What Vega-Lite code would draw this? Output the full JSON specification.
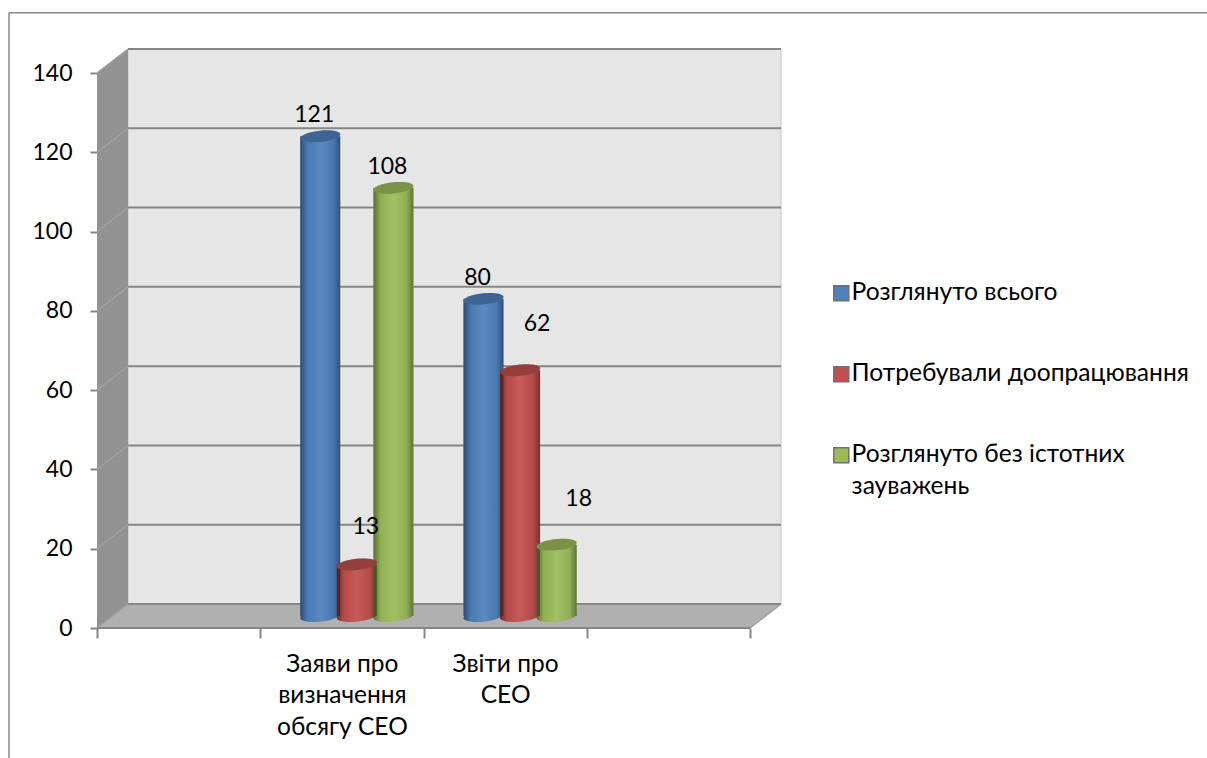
{
"$schema":"https://vega.github.io/schema/vega-lite/v6.json",
"width":653,"height":555,
"autosize":{"type":"none"},
"padding":{"left":97,"top":73,"right":457,"bottom":130},
"background":"#ffffff",
"config":{"font":"Lato","view":{"stroke":null},"axis":{"labelFont":"Lato","labelFontSize":23,"labelColor":"#000000","titleFont":"Lato"},"legend":{"labelFont":"Lato","labelFontSize":24.6,"labelColor":"#000000"}},
"datasets":{"bars":[
{"category":"Заяви про визначення обсягу СЕО","series":"Розглянуто всього","value":121},
{"category":"Заяви про визначення обсягу СЕО","series":"Потребували доопрацювання","value":13},
{"category":"Заяви про визначення обсягу СЕО","series":"Розглянуто без істотних зауважень","value":108},
{"category":"Звіти про СЕО","series":"Розглянуто всього","value":80},
{"category":"Звіти про СЕО","series":"Потребували доопрацювання","value":62},
{"category":"Звіти про СЕО","series":"Розглянуто без істотних зауважень","value":18}
]},
"resolve":{"scale":{"x":"independent"}},
"layer":[
{"encoding":{},
"layer":[
{"data":{"values":[{"x":-0.539,"x2":6.8,"y":155.2,"y2":155.2},{"x":-0.539,"x2":-0.539,"y":155.2,"y2":-32.9}]},
 "mark":{"type":"rule","color":"#8c8c8c","strokeWidth":1.5},
 "encoding":{"x":{"field":"x","type":"quantitative","scale":{"domain":[0,4]},"axis":null},"x2":{"field":"x2"},"y":{"field":"y","type":"quantitative","scale":{"domain":[0,140]},"axis":{"values":[0,20,40,60,80,100,120,140],"title":null,"grid":false,"labelPadding":18,"tickSize":7,"tickColor":"#868686","tickWidth":2,"domain":false}},"y2":{"field":"y2"}}},
{"data":{"values":[{"x":0.19,"x2":4.19,"y":6.05,"y2":146.05}]},
 "mark":{"type":"rect","fill":"#e6e6e6","stroke":"#c8c8c8","strokeWidth":1},
 "encoding":{"x":{"field":"x","type":"quantitative","scale":{"domain":[0,4]},"axis":null},"x2":{"field":"x2"},"y":{"field":"y","type":"quantitative","scale":{"domain":[0,140]}},"y2":{"field":"y2"}}},
{"data":{"values":[{"x":0,"y":0,"y2":140},{"x":0.19,"y":6.05,"y2":146.05}]},
 "mark":{"type":"area","fill":"#929292","orient":"vertical"},
 "encoding":{"x":{"field":"x","type":"quantitative","scale":{"domain":[0,4]},"axis":null},"y":{"field":"y","type":"quantitative","scale":{"domain":[0,140]}},"y2":{"field":"y2"}}},
{"data":{"values":[{"y":0,"x":0,"x2":4},{"y":6.05,"x":0.19,"x2":4.19}]},
 "mark":{"type":"area","fill":"#b0b0b0","orient":"horizontal"},
 "encoding":{"y":{"field":"y","type":"quantitative","scale":{"domain":[0,140]}},"x":{"field":"x","type":"quantitative","scale":{"domain":[0,4]},"axis":null},"x2":{"field":"x2"}}},
{"data":{"values":[
{"x":0,"y":0,"x2":0.19,"y2":6.05},{"x":0,"y":20,"x2":0.19,"y2":26.05},{"x":0,"y":40,"x2":0.19,"y2":46.05},{"x":0,"y":60,"x2":0.19,"y2":66.05},{"x":0,"y":80,"x2":0.19,"y2":86.05},{"x":0,"y":100,"x2":0.19,"y2":106.05},{"x":0,"y":120,"x2":0.19,"y2":126.05},{"x":0,"y":140,"x2":0.19,"y2":146.05},
{"x":4,"y":0,"x2":4.19,"y2":6.05}
]},
 "mark":{"type":"rule","color":"#a0a0a0","strokeWidth":1.5},
 "encoding":{"x":{"field":"x","type":"quantitative","scale":{"domain":[0,4]},"axis":null},"x2":{"field":"x2"},"y":{"field":"y","type":"quantitative","scale":{"domain":[0,140]}},"y2":{"field":"y2"}}},
{"data":{"values":[
{"x":0.19,"x2":4.19,"y":6.05},{"x":0.19,"x2":4.19,"y":26.05},{"x":0.19,"x2":4.19,"y":46.05},{"x":0.19,"x2":4.19,"y":66.05},{"x":0.19,"x2":4.19,"y":86.05},{"x":0.19,"x2":4.19,"y":106.05},{"x":0.19,"x2":4.19,"y":126.05},{"x":0.19,"x2":4.19,"y":146.05},{"x":0,"x2":4,"y":0}
]},
 "mark":{"type":"rule","color":"#868686","strokeWidth":2},
 "encoding":{"x":{"field":"x","type":"quantitative","scale":{"domain":[0,4]},"axis":null},"x2":{"field":"x2"},"y":{"field":"y","type":"quantitative","scale":{"domain":[0,140]}}}}
]},
{"data":{"name":"bars"},
"encoding":{
 "x":{"field":"category","type":"nominal","sort":null,"scale":{"domain":[" ","Заяви про визначення обсягу СЕО","Звіти про СЕО","  "],"paddingInner":0,"paddingOuter":0},
  "axis":{"title":null,"bandPosition":0,"tickBand":"extent","labelAngle":0,"labelAlign":"center","labelBaseline":"top","labelFontSize":24.5,"labelPadding":14,"labelLimit":400,"labelLineHeight":31.5,"tickSize":10,"tickColor":"#868686","tickWidth":2,"domain":false,"grid":false,
  "labelExpr":"datum.value === 'Заяви про визначення обсягу СЕО' ? ['Заяви про','визначення','обсягу СЕО'] : datum.value === 'Звіти про СЕО' ? ['Звіти про','СЕО'] : ''"}},
 "xOffset":{"field":"series","type":"nominal","sort":null,"scale":{"domain":["Розглянуто всього","Потребували доопрацювання","Розглянуто без істотних зауважень"],"paddingInner":0,"paddingOuter":0.73,"align":0.78}},
 "y":{"field":"value","type":"quantitative","scale":{"domain":[0,140]}}
},
"layer":[
{"transform":[{"calculate":"0","as":"base"}],"mark":{"type":"point","filled":true,"opacity":1,"size":1600,"yOffset":-12,"shape":"M-1,0.1 A1,0.28,-6,1,1,1,-0.1 A1,0.28,-6,1,1,-1,0.1 Z","strokeWidth":0},
 "encoding":{"y":{"field":"base","type":"quantitative"},
 "color":{"field":"series","type":"nominal","sort":null,"scale":{"domain":["Розглянуто всього","Потребували доопрацювання","Розглянуто без істотних зауважень"],"range":["#4f81bd","#c0504d","#9bbb59"]},
 "legend":{"title":null,"orient":"none","legendX":732,"legendY":208,"symbolType":"square","symbolSize":225,"symbolStrokeColor":"#6f6f6f","symbolStrokeWidth":1.5,"symbolOpacity":1,"labelOffset":-2,"rowPadding":56,"labelLimit":400,
 "encoding":{"labels":{"lineHeight":{"value":32}}},
 "labelExpr":"datum.value === 'Розглянуто без істотних зауважень' ? ['Розглянуто без істотних','зауважень'] : datum.value"}}}},
{"transform":[{"calculate":"0","as":"base"}],"mark":{"type":"point","filled":true,"opacity":1,"size":1600,"yOffset":-12,"shape":"M-1,0.1 A1,0.28,-6,1,1,1,-0.1 A1,0.28,-6,1,1,-1,0.1 Z","strokeWidth":0,"fill":{"gradient":"linear","x1":0,"x2":1,"y1":0,"y2":0,"stops":[{"offset":0,"color":"rgba(0,0,0,0.42)"},{"offset":0.18,"color":"rgba(0,0,0,0.06)"},{"offset":0.5,"color":"rgba(255,255,255,0.07)"},{"offset":0.82,"color":"rgba(0,0,0,0.06)"},{"offset":1,"color":"rgba(0,0,0,0.38)"}]}},
 "encoding":{"y":{"field":"base","type":"quantitative"}}},
{"mark":{"type":"bar","width":40,"yOffset":-12,"y2Offset":-12},
 "encoding":{"color":{"field":"series","type":"nominal","sort":null}}},
{"mark":{"type":"bar","width":40,"yOffset":-12,"y2Offset":-12,"fill":{"gradient":"linear","x1":0,"x2":1,"y1":0,"y2":0,"stops":[{"offset":0,"color":"rgba(0,0,0,0.42)"},{"offset":0.18,"color":"rgba(0,0,0,0.06)"},{"offset":0.5,"color":"rgba(255,255,255,0.07)"},{"offset":0.82,"color":"rgba(0,0,0,0.06)"},{"offset":1,"color":"rgba(0,0,0,0.38)"}]}}},
{"mark":{"type":"point","filled":true,"opacity":1,"size":1600,"yOffset":-12,"shape":"M-1,0.1 A1,0.28,-6,1,1,1,-0.1 A1,0.28,-6,1,1,-1,0.1 Z","strokeWidth":0},
 "encoding":{"color":{"field":"series","type":"nominal","sort":null}}},
{"mark":{"type":"point","filled":true,"opacity":0.22,"color":"#000000","size":1600,"yOffset":-12,"shape":"M-1,0.1 A1,0.28,-6,1,1,1,-0.1 A1,0.28,-6,1,1,-1,0.1 Z","strokeWidth":0}},
{"transform":[{"filter":"datum.value == 121 || datum.value == 108 || datum.value == 80"}],"mark":{"type":"text","font":"Lato","fontSize":23,"color":"#000000","dx":-6,"dy":-33},"encoding":{"text":{"field":"value","type":"quantitative"}}},
{"transform":[{"filter":"datum.value == 13"}],"mark":{"type":"text","font":"Lato","fontSize":23,"color":"#000000","dx":9,"dy":-49},"encoding":{"text":{"field":"value","type":"quantitative"}}},
{"transform":[{"filter":"datum.value == 62"}],"mark":{"type":"text","font":"Lato","fontSize":23,"color":"#000000","dx":17,"dy":-58},"encoding":{"text":{"field":"value","type":"quantitative"}}},
{"transform":[{"filter":"datum.value == 18"}],"mark":{"type":"text","font":"Lato","fontSize":23,"color":"#000000","dx":22,"dy":-58},"encoding":{"text":{"field":"value","type":"quantitative"}}}
]}
]}
